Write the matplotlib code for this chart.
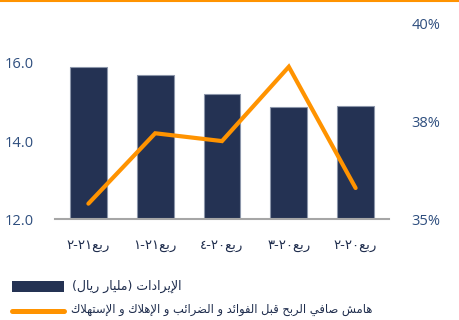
import re
import matplotlib
matplotlib.use("Agg")
import matplotlib.pyplot as plt
from matplotlib.lines import Line2D
from matplotlib.patches import Rectangle
from matplotlib.ticker import FuncFormatter

# data (right-to-left order as in the source chart)
quarters = ["ربع٢١-٢", "ربع٢١-١", "ربع٢٠-٤", "ربع٢٠-٣", "ربع٢٠-٢"]
revenue = [15.89, 15.68, 15.20, 14.87, 14.91]      # billion riyals
ebitda_margin = [35.4, 37.2, 37.0, 38.9, 35.8]     # percent
left_ticks = [12.0, 14.0, 16.0]
right_ticks = [35, 37.5, 40]
legend_labels = ["الإيرادات (مليار ريال)",
                 "هامش صافي الربح قبل الفوائد و الضرائب و الإهلاك و الإستهلاك"]

NAVY = "#243253"
ORANGE = "#FF9300"
TICK_BLUE = "#2E4E7E"
TEXT_DARK = "#1F2D4D"

# matplotlib does no arabic shaping, so convert to presentation forms by hand
FORMS = {
    "ا": ("\ufe8d", "\ufe8e", None, None),
    "إ": ("\ufe87", "\ufe88", None, None),
    "د": ("\ufea9", "\ufeaa", None, None),
    "ر": ("\ufead", "\ufeae", None, None),
    "و": ("\ufeed", "\ufeee", None, None),
    "ب": ("\ufe8f", "\ufe90", "\ufe91", "\ufe92"),
    "ت": ("\ufe95", "\ufe96", "\ufe97", "\ufe98"),
    "ح": ("\ufea1", "\ufea2", "\ufea3", "\ufea4"),
    "س": ("\ufeb1", "\ufeb2", "\ufeb3", "\ufeb4"),
    "ش": ("\ufeb5", "\ufeb6", "\ufeb7", "\ufeb8"),
    "ص": ("\ufeb9", "\ufeba", "\ufebb", "\ufebc"),
    "ض": ("\ufebd", "\ufebe", "\ufebf", "\ufec0"),
    "ع": ("\ufec9", "\ufeca", "\ufecb", "\ufecc"),
    "ف": ("\ufed1", "\ufed2", "\ufed3", "\ufed4"),
    "ق": ("\ufed5", "\ufed6", "\ufed7", "\ufed8"),
    "ك": ("\ufed9", "\ufeda", "\ufedb", "\ufedc"),
    "ل": ("\ufedd", "\ufede", "\ufedf", "\ufee0"),
    "م": ("\ufee1", "\ufee2", "\ufee3", "\ufee4"),
    "ه": ("\ufee9", "\ufeea", "\ufeeb", "\ufeec"),
    "ي": ("\ufef1", "\ufef2", "\ufef3", "\ufef4"),
    "ئ": ("\ufe89", "\ufe8a", "\ufe8b", "\ufe8c"),
    "LA": ("\ufefb", "\ufefc", None, None),
    "LI": ("\ufef9", "\ufefa", None, None),
}


def shape(s):
    chars = []
    i = 0
    while i < len(s):
        if s[i] == "ل" and i + 1 < len(s) and s[i + 1] in ("ا", "إ"):
            chars.append("LA" if s[i + 1] == "ا" else "LI")
            i += 2
        else:
            chars.append(s[i])
            i += 1
    out = []
    for k, c in enumerate(chars):
        if c not in FORMS:
            out.append(c)
            continue
        iso, fin, ini, med = FORMS[c]
        prev = chars[k - 1] if k > 0 else None
        nxt = chars[k + 1] if k + 1 < len(chars) else None
        joins_prev = prev in FORMS and FORMS[prev][2] is not None
        joins_next = ini is not None and nxt in FORMS
        if joins_prev and joins_next:
            out.append(med)
        elif joins_prev:
            out.append(fin)
        elif joins_next:
            out.append(ini)
        else:
            out.append(iso)
    return "".join(out)


def visual(s):
    rev = shape(s)[::-1]
    rev = rev.translate(str.maketrans("()", ")("))
    # digit runs keep their left-to-right order
    return re.sub(r"[0-9\u0660-\u0669]+", lambda m: m.group()[::-1], rev)


fig = plt.figure(figsize=(4.59, 3.20), dpi=100)
ax = fig.add_axes([0.1198, 0.3147, 0.7277, 0.611])
x = list(range(len(quarters)))

ax.bar(x, revenue, width=0.55, color=NAVY, edgecolor="#8C96AA", linewidth=0.8)
ax.set_ylim(12, 17)
ax.set_xlim(-0.5, 4.5)
ax.set_yticks(left_ticks)
ax.yaxis.set_major_formatter(FuncFormatter(lambda v, p: f"{v:.1f}"))
ax.set_xticks(x)
ax.set_xticklabels([visual(q) for q in quarters], family="DejaVu Sans",
                   fontsize=9.5, color=TEXT_DARK)
ax.tick_params(axis="y", length=0, pad=15, labelsize=10.5, labelcolor=TICK_BLUE)
ax.tick_params(axis="x", length=0, pad=14)
for lbl in ax.get_yticklabels():
    lbl.set_family("Open Sans")
    lbl.set_y(lbl.get_position()[1])
for side in ["top", "left", "right"]:
    ax.spines[side].set_visible(False)
ax.spines["bottom"].set_color("#A6A6A6")
ax.spines["bottom"].set_linewidth(1.5)

ax2 = ax.twinx()
ax2.plot(x, ebitda_margin, color=ORANGE, linewidth=3, solid_capstyle="round",
         solid_joinstyle="miter")
ax2.set_ylim(35, 40)
ax2.set_yticks(right_ticks)
ax2.yaxis.set_major_formatter(FuncFormatter(lambda v, p: f"{v:.0f}%"))
ax2.tick_params(axis="y", length=0, pad=16, labelsize=10.5, labelcolor=TICK_BLUE)
for lbl in ax2.get_yticklabels():
    lbl.set_family("Open Sans")
for side in ["top", "left", "right", "bottom"]:
    ax2.spines[side].set_visible(False)

#orange rule along the top edge
fig.add_artist(Line2D([0, 1], [0.9955, 0.9955], transform=fig.transFigure,
                      color=ORANGE, linewidth=1.5))

#legend, drawn by hand
fig.add_artist(Rectangle((12 / 459, 1 - 292 / 320), 52 / 459, 11 / 320,
                         transform=fig.transFigure, facecolor=NAVY, edgecolor="none"))
fig.text(72 / 459, 1 - 286 / 320, visual(legend_labels[0]), family="DejaVu Sans",
         fontsize=9.0, color=TEXT_DARK, va="center", ha="left")
fig.add_artist(Line2D([12 / 459, 64 / 459], [1 - 311 / 320, 1 - 311 / 320],
                      transform=fig.transFigure, color=ORANGE, linewidth=3.6,
                      solid_capstyle="round"))
fig.text(71 / 459, 1 - 309 / 320, visual(legend_labels[1]), family="DejaVu Sans",
         fontsize=8.3, color=TEXT_DARK, va="center", ha="left")

fig.savefig("out.png", dpi=100)
